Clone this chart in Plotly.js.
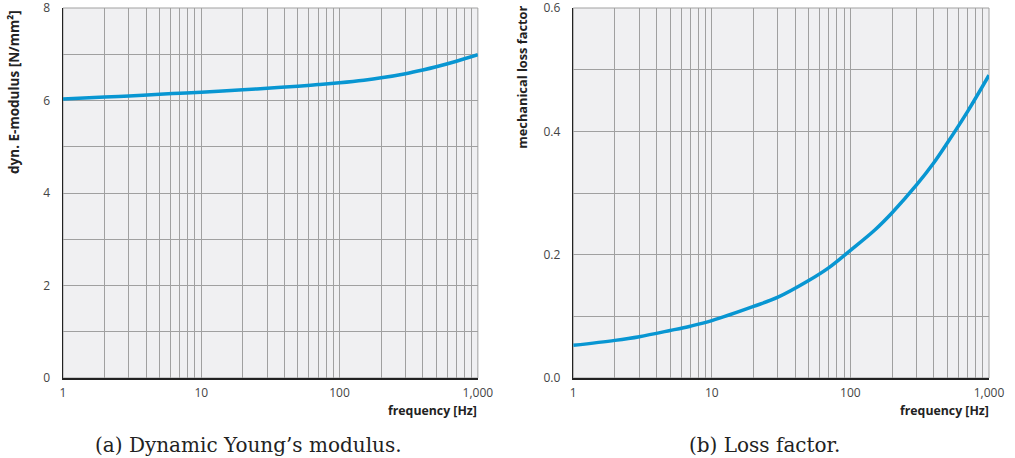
<!DOCTYPE html>
<html>
<head>
<meta charset="utf-8">
<script src="https://cdn.plot.ly/plotly-3.0.1.min.js"></script>
<style>html,body{margin:0;padding:0;background:#fff;}#chart{width:1015px;height:458px;}</style>
</head>
<body>
<div id="chart"></div>
<script>
// Data
const freq = [1, 2, 3, 5, 7, 10, 20, 30, 50, 70, 100, 150, 200, 300, 400, 500, 700, 1000];
const eModulus = [6.03, 6.075, 6.10, 6.135, 6.157, 6.18, 6.232, 6.265, 6.31, 6.345, 6.385, 6.44, 6.49, 6.58, 6.66, 6.73, 6.85, 6.99];
const lossFactor = [0.053, 0.061, 0.067, 0.077, 0.084, 0.093, 0.116, 0.131, 0.158, 0.179, 0.207, 0.240, 0.268, 0.313, 0.349, 0.381, 0.432, 0.491];

const xTickLabels = ["1", "10", "100", "1,000"];
const yTickA = [0, 1, 2, 3, 4, 5, 6, 7, 8];
const yTickAText = ["0", "", "2", "", "4", "", "6", "", "8"];
const yTickB = [0, 0.1, 0.2, 0.3, 0.4, 0.5, 0.6];
const yTickBText = ["0.0", "", "0.2", "", "0.4", "", "0.6"];

// log grid positions 1..9 per decade
const xGrid = [];
const xGridText = [];
[1, 10, 100].forEach((d, i) => {
  for (let k = 1; k <= 9; k++) {
    xGrid.push(d * k);
    xGridText.push(k === 1 ? xTickLabels[i] : "");
  }
});
xGrid.push(1000);
xGridText.push(xTickLabels[3]);

const lineColor = "#0896d2";
const gridColor = "#a0a0a0";
const tickFont = {family: "Open Sans, sans-serif", size: 12, color: "#444"};

const xAxisBase = {
  type: "log",
  range: [-0.0001, 3.0001],
  tickvals: xGrid,
  ticktext: xGridText,
  showgrid: true,
  gridcolor: gridColor,
  gridwidth: 1,
  zeroline: false,
  showline: true,
  linecolor: "#222",
  linewidth: 1.5,
  ticks: "",
  ticklabelstandoff: 3,
  ticklabeloverflow: "allow",
  tickfont: tickFont,
  fixedrange: true
};
const yAxisBase = {
  showgrid: true,
  gridcolor: gridColor,
  gridwidth: 1,
  zeroline: false,
  showline: true,
  linecolor: "#222",
  linewidth: 1.5,
  ticks: "",
  ticklabelstandoff: 9,
  ticklabeloverflow: "allow",
  tickfont: tickFont,
  fixedrange: true
};

const traces = [
  {x: freq, y: eModulus, xaxis: "x", yaxis: "y", mode: "lines",
   line: {color: lineColor, width: 3.5, shape: "spline", smoothing: 1}, hoverinfo: "skip"},
  {x: freq, y: lossFactor, xaxis: "x2", yaxis: "y2", mode: "lines",
   line: {color: lineColor, width: 3.5, shape: "spline", smoothing: 1}, hoverinfo: "skip"}
];

const titleFontA = {family: "Open Sans, sans-serif", size: 13.5, color: "#222"};
const titleFontB = {family: "Open Sans, sans-serif", size: 12.8, color: "#222"};
const xTitleFont = {family: "Open Sans, sans-serif", size: 12.3, color: "#222"};
const capFont = {family: "DejaVu Serif, serif", size: 20, color: "#222"};

const layout = {
  width: 1015,
  height: 458,
  margin: {l: 63, r: 26, t: 8, b: 80},
  paper_bgcolor: "#ffffff",
  plot_bgcolor: "#f0f0f2",
  showlegend: false,
  xaxis: Object.assign({}, xAxisBase, {domain: [0, 0.448], anchor: "y"}),
  yaxis: Object.assign({}, yAxisBase, {range: [-0.0005, 8.0005], tickvals: yTickA, ticktext: yTickAText, anchor: "x"}),
  xaxis2: Object.assign({}, xAxisBase, {domain: [0.551, 1], anchor: "y2"}),
  yaxis2: Object.assign({}, yAxisBase, {range: [-0.00004, 0.60004], tickvals: yTickB, ticktext: yTickBText, anchor: "x2"}),
  shapes: [
    {type: "rect", xref: "x domain", yref: "y domain", x0: 0, x1: 1, y0: 0, y1: 1, line: {color: gridColor, width: 1}, layer: "below"},
    {type: "rect", xref: "x2 domain", yref: "y2 domain", x0: 0, x1: 1, y0: 0, y1: 1, line: {color: gridColor, width: 1}, layer: "below"}
  ],
  annotations: [
    {text: "<b>dyn. E-modulus [N/mm²]</b>", textangle: -90, xref: "paper", yref: "paper",
     x: -0.053, y: 1.0, xanchor: "center", yanchor: "top", showarrow: false, font: titleFontA},
    {text: "<b>mechanical loss factor</b>", textangle: -90, xref: "paper", yref: "paper",
     x: 0.4957, y: 1.01, xanchor: "center", yanchor: "top", showarrow: false, font: titleFontB},
    {text: "<b>frequency [Hz]</b>", xref: "paper", yref: "paper",
     x: 0.449, y: -0.0865, xanchor: "right", yanchor: "middle", showarrow: false, font: xTitleFont},
    {text: "<b>frequency [Hz]</b>", xref: "paper", yref: "paper",
     x: 1.002, y: -0.0865, xanchor: "right", yanchor: "middle", showarrow: false, font: xTitleFont},
    {text: "(a) Dynamic Young’s modulus.", xref: "paper", yref: "paper",
     x: 0.2, y: -0.181, xanchor: "center", yanchor: "middle", showarrow: false, font: capFont},
    {text: "(b) Loss factor.", xref: "paper", yref: "paper",
     x: 0.758, y: -0.181, xanchor: "center", yanchor: "middle", showarrow: false, font: capFont}
  ]
};

Plotly.newPlot("chart", traces, layout, {displayModeBar: false, staticPlot: true});
</script>
</body>
</html>
